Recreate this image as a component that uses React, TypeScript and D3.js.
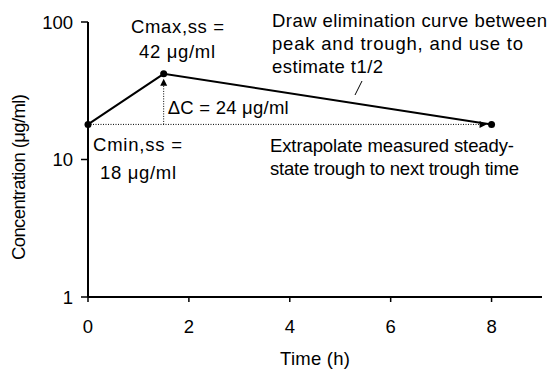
import React from 'react';
import * as d3 from 'd3';

// steady-state points: trough, peak, next trough
const times = [0, 1.5, 8];
const concs = [18, 42, 18];
const xTicks = [0, 2, 4, 6, 8];
const yTicks = [1, 10, 100];
const topNote = ['Draw elimination curve between', 'peak and trough, and use to', 'estimate t1/2'];
const topNoteWidths = [275, 251, 111];
const bottomNote = ['Extrapolate measured steady-', 'state trough to next trough time'];
const bottomNoteWidths = [244, 249];

const W = 554;
const H = 369;
const FONT = '"Liberation Sans", Arial, Helvetica, sans-serif';

const App: React.FC = () => {
  const x = d3.scaleLinear().domain([0, 9]).range([88, 542]);
  const y = d3.scaleLog().domain([1, 100]).range([297, 22]);

  const pts = times.map((t, i) => [x(t), y(concs[i])] as [number, number]);
  const line = d3.line()(pts) || '';

  const [px, py] = pts[1];
  const [tx, ty] = pts[0];
  const [ex] = pts[2];

  // arrowheads at the end of the dotted guides
  const arrowUp = `M${px},${py + 5} L${px - 3.5},${py + 12} L${px + 3.5},${py + 12} Z`;
  const arrowRight = `M${ex - 12},${ty - 3.5} L${ex - 5},${ty} L${ex - 12},${ty + 3.5} Z`;

  const textStyle = { fontFamily: FONT, fontSize: 18.5 };

  return (
    <svg width={W} height={H} style={{ position: 'absolute', left: 0, top: 0, background: '#fff' }}>
      {/* y axis */}
      <line x1={x(0)} x2={x(0)} y1={y(100)} y2={y(1)} stroke="#000" strokeWidth={2} />
      {yTicks.map(t => (
        <g key={'y' + t}>
          <line x1={x(0) - 7} x2={x(0)} y1={y(t)} y2={y(t)} stroke="#000" strokeWidth={1.5} />
          <text x={x(0) - 15} y={y(t)} dy="0.36em" textAnchor="end" style={textStyle}>{t}</text>
        </g>
      ))}
      {/* x axis */}
      <line x1={x(0)} x2={x(9)} y1={y(1)} y2={y(1)} stroke="#000" strokeWidth={2} />
      {xTicks.map(t => (
        <g key={'x' + t}>
          <line x1={x(t)} x2={x(t)} y1={y(1)} y2={y(1) + 5} stroke="#000" strokeWidth={1.5} />
          <text x={x(t)} y={333} textAnchor="middle" style={textStyle}>{t}</text>
        </g>
      ))}
      <text x={x(4.5)} y={365} textAnchor="middle" textLength={70} style={textStyle}>Time (h)</text>
      <text transform={`translate(25,177) rotate(-90)`} textAnchor="middle" textLength={166} style={textStyle}>
        Concentration (μg/ml)
      </text>

      {/* dotted guides */}
      <line x1={tx} x2={ex - 12} y1={ty} y2={ty} stroke="#000" strokeWidth={1} strokeDasharray="1,1.5" />
      <line x1={px} x2={px} y1={ty} y2={py + 12} stroke="#000" strokeWidth={1} strokeDasharray="1,1.5" />
      <path d={arrowUp} fill="#000" />
      <path d={arrowRight} fill="#000" />

      {/* elimination curve */}
      <path d={line} fill="none" stroke="#000" strokeWidth={2} />
      {pts.map(([cx, cy], i) => (
        <circle key={i} cx={cx} cy={cy} r={3.5} fill="#000" />
      ))}

      {/* annotations */}
      <text x={131} y={33} textLength={93} style={textStyle}>Cmax,ss =</text>
      <text x={139} y={58} textLength={76} style={textStyle}>{concs[1]} μg/ml</text>
      <text x={93} y={151} textLength={89} style={textStyle}>Cmin,ss =</text>
      <text x={100} y={179} textLength={76} style={textStyle}>{concs[0]} μg/ml</text>
      <text x={px + 4} y={114} textLength={121} style={textStyle}>ΔC = {concs[1] - concs[0]} μg/ml</text>
      {topNote.map((s, i) => (
        <text key={s} x={272} y={27 + i * 23} textLength={topNoteWidths[i]} style={textStyle}>{s}</text>
      ))}
      <line x1={355} y1={95} x2={362} y2={81} stroke="#000" strokeWidth={1} />
      {bottomNote.map((s, i) => (
        <text key={s} x={270} y={152 + i * 23} textLength={bottomNoteWidths[i]} style={textStyle}>{s}</text>
      ))}
    </svg>
  );
};

export default App;
